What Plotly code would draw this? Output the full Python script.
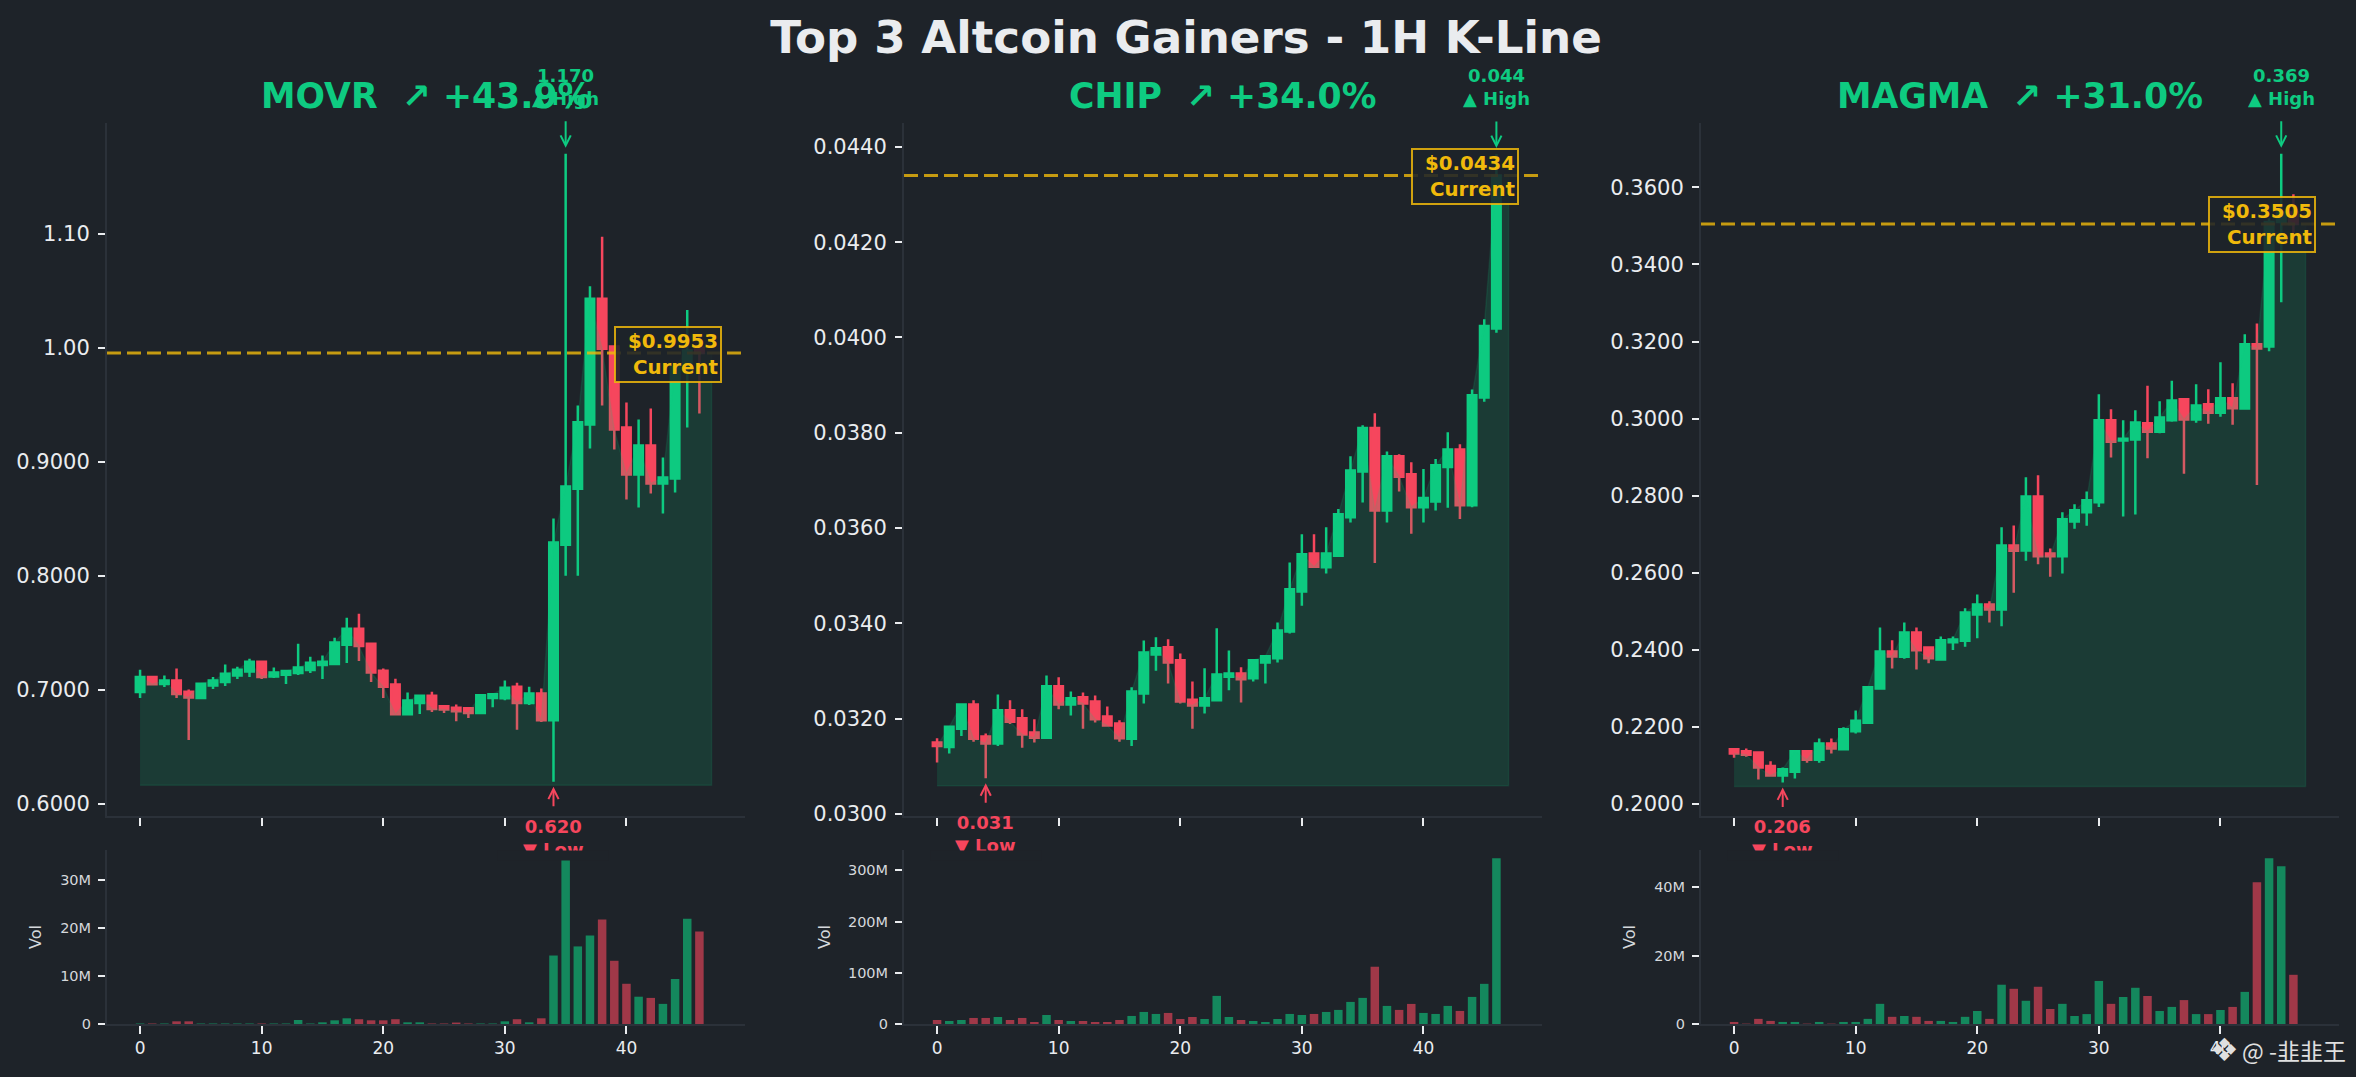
import plotly.graph_objects as go

W, H = 2356, 1077
BG = '#1e2329'
GREEN = '#0ecb81'
RED = '#f6465d'
GOLD = '#f0b90b'
SPINE = '#2b3139'
TEXT = '#eaecef'
FONT = 'DejaVu Sans'

names = ['MOVR', 'CHIP', 'MAGMA']
gains = ['+43.9%', '+34.0%', '+31.0%']

# MOVR
movr_open = [.6982,.7114,.7053,.7082,.6985,.693,.7038,.707,.7126,.7161,.7248,.7117,.7134,.7149,.7175,.7219,.7228,.7397,.7537,.7406,.7169,.7047,.6787,.6886,.695,.6857,.6845,.6839,.6799,.693,.6927,.7029,.6886,.6968,.6734,.8273,.8763,.9327,1.043,1.001,.93,.8889,.9143,.881,.8854,.983,1.0]
movr_high = [.7178,.7114,.7126,.7187,.7003,.7061,.7114,.7222,.7204,.7274,.7248,.7196,.7166,.7406,.7292,.7301,.7458,.7634,.7669,.7406,.7187,.7099,.6977,.695,.6985,.6869,.6872,.6845,.6959,.6968,.7082,.7064,.7029,.7012,.8503,1.170,.9493,1.054,1.0973,1.001,.9519,.937,.9467,.9038,.983,1.033,1.01]
movr_low = [.693,.7045,.7026,.693,.6562,.6921,.7009,.7035,.7096,.7114,.7096,.7105,.7053,.7131,.7149,.7096,.7219,.7237,.7254,.707,.693,.6781,.6781,.679,.6807,.6799,.6726,.6755,.6799,.6848,.691,.665,.6869,.672,.6195,.80,.80,.9116,.9493,.9108,.867,.86,.8722,.8547,.873,.93,.9423]
movr_close = [.7114,.705,.7082,.6965,.6933,.7055,.7082,.7143,.7178,.7248,.7114,.7152,.7166,.7196,.7239,.7248,.7415,.7537,.7385,.7152,.7029,.6787,.6907,.695,.6834,.6828,.6813,.6799,.6953,.6962,.702,.6886,.6968,.6734,.8293,.8784,.9347,1.043,.9992,.9283,.8889,.9143,.881,.8862,.983,.9975,.9953]
movr_vol = [.1,.1,.1,.56,.56,.1,.1,.1,.1,.1,.1,.1,.1,.84,.1,.35,.77,1.19,1.0,.77,.77,1.0,.35,.35,.1,.1,.3,.1,.1,.1,.56,1.0,.35,1.19,14.3,34.6,16.2,18.5,21.8,13.2,8.4,5.7,5.45,4.2,9.4,22.0,19.3]

# CHIP
chip_open = [.0315,.03141,.03179,.0323,.03163,.03148,.03218,.03201,.03171,.0316,.03268,.0323,.03245,.03236,.03205,.0319,.03158,.03253,.03335,.0335,.03323,.0324,.03228,.03239,.03288,.03295,.03285,.03318,.03327,.03383,.03467,.03547,.03518,.03542,.03623,.03719,.0381,.03637,.03751,.03713,.03644,.03656,.03728,.03765,.03648,.03874,.04019]
chip_high = [.03159,.03183,.03232,.03239,.03169,.03251,.03239,.0322,.03199,.03291,.03287,.03257,.03255,.03249,.03226,.03197,.03266,.03364,.03371,.03367,.03337,.03278,.03306,.0339,.03343,.03308,.03325,.03331,.03402,.03528,.03587,.03587,.03602,.0364,.03751,.03816,.03841,.03761,.03755,.03738,.03724,.03745,.03801,.03776,.03891,.04038,.04385]
chip_low = [.03108,.03127,.03164,.03152,.03075,.03143,.03189,.03139,.0315,.03158,.0322,.03207,.03179,.03192,.03186,.03152,.03143,.03232,.03301,.03274,.03232,.03179,.03211,.03238,.0326,.03234,.03278,.03274,.03318,.03379,.03437,.03518,.03505,.0354,.03612,.03654,.03527,.03612,.03677,.03588,.03612,.03637,.03643,.03619,.03644,.03865,.0401]
chip_close = [.03143,.03183,.0323,.03158,.03148,.03218,.03194,.03167,.0316,.03268,.0323,.03243,.03232,.03199,.03186,.03159,.03257,.03339,.03348,.03318,.03236,.03228,.03243,.03293,.03295,.03283,.03323,.03331,.03385,.03472,.03545,.03519,.03547,.03629,.03721,.0381,.03637,.03751,.03708,.03644,.03663,.03732,.03765,.03648,.03879,.04024,.0434]
chip_vol = [7.8,5.9,7.8,11.8,11.8,13.7,7.8,11.8,3.9,17.6,7.8,5.9,5.9,3.9,3.9,7.8,15.7,23.5,19.6,21.6,9.8,13.7,9.8,54.9,13.7,7.8,5.9,3.9,9.8,19.6,17.6,19.6,23.5,27.5,43.1,51.0,111.8,35.3,27.5,39.2,21.6,19.6,35.3,25.5,52.9,78.4,323.5]

# MAGMA
magma_open = [.2142,.2137,.2134,.2099,.2074,.2084,.2137,.2115,.2157,.2142,.2189,.2211,.23,.2396,.2382,.2445,.2406,.2375,.242,.2424,.2492,.2518,.2505,.2671,.2658,.2798,.265,.2643,.2733,.2757,.2783,.2996,.2943,.2946,.2988,.2966,.2996,.305,.2998,.3037,.3015,.3053,.3026,.3193,.3187,.351,.3535]
magma_high = [.2144,.2144,.2136,.2111,.2095,.2137,.2137,.217,.217,.2199,.2243,.2305,.2458,.2425,.2471,.2458,.2406,.2435,.2435,.2508,.2544,.2526,.2718,.2723,.2848,.2853,.2663,.2757,.2778,.2811,.3063,.3024,.2996,.3022,.3085,.3045,.3098,.3053,.3089,.3076,.3146,.3092,.3219,.3247,.352,.3687,.3582]
magma_low = [.212,.2123,.2064,.2073,.2056,.2066,.2107,.2107,.2131,.2142,.2183,.2209,.23,.2352,.2377,.2349,.2365,.2375,.24,.2408,.243,.2471,.2461,.2548,.2631,.2622,.259,.2598,.2714,.2722,.2771,.2899,.2746,.2751,.2897,.2962,.2992,.2857,.2989,.2987,.3005,.2984,.3024,.2828,.3175,.3302,.348]
magma_close = [.2131,.2128,.2095,.2074,.209,.2137,.2115,.2157,.2144,.2194,.2216,.2303,.2396,.2383,.2445,.2399,.2378,.2425,.2427,.2497,.2518,.2505,.2671,.2657,.2798,.2643,.2643,.2739,.2762,.2788,.2996,.294,.2948,.299,.2966,.3003,.3047,.2998,.3034,.3015,.3053,.3027,.3193,.3182,.351,.3535,.3505]
magma_vol = [.6,.1,1.5,.9,.6,.6,.1,.6,.1,.6,.6,1.5,5.9,2.1,2.35,2.1,.9,.9,.6,2.1,3.8,1.5,11.5,10.3,6.8,10.9,4.4,5.9,2.35,2.9,12.6,5.9,7.9,10.6,8.2,3.8,5.0,7.0,2.9,2.9,4.1,5.0,9.4,41.5,48.5,46.2,14.4]

opens = [movr_open, chip_open, magma_open]
highs = [movr_high, chip_high, magma_high]
lows = [movr_low, chip_low, magma_low]
closes = [movr_close, chip_close, magma_close]
vols = [movr_vol, chip_vol, magma_vol]

x_ticks = [0, 10, 20, 30, 40]
price_ticks = [
    [0.6, 0.7, 0.8, 0.9, 1.0, 1.1],
    [0.03, 0.032, 0.034, 0.036, 0.038, 0.04, 0.042, 0.044],
    [0.20, 0.22, 0.24, 0.26, 0.28, 0.30, 0.32, 0.34, 0.36],
]
price_labels = [
    ['0.6000', '0.7000', '0.8000', '0.9000', '1.00', '1.10'],
    ['0.0300', '0.0320', '0.0340', '0.0360', '0.0380', '0.0400', '0.0420', '0.0440'],
    ['0.2000', '0.2200', '0.2400', '0.2600', '0.2800', '0.3000', '0.3200', '0.3400', '0.3600'],
]
price_ranges = [[0.5895, 1.197], [0.02996, 0.0445], [0.1969, 0.3767]]
vol_ticks = [[0, 10, 20, 30], [0, 100, 200, 300], [0, 20, 40]]
vol_labels = [['0', '10M', '20M', '30M'], ['0', '100M', '200M', '300M'], ['0', '20M', '40M']]

# pixel positions of the panels
lefts = [107, 904, 1701]
panel_w = 638
main_top, main_bottom = 123, 816
vol_top, vol_bottom = 850, 1024
x_range = [-2.72, 49.75]

fig = go.Figure()
layout = {}


def ax_id(letter, n):
    return letter if n == 1 else f'{letter}{n}'


for p in range(3):
    n = len(closes[p])
    xs = list(range(n))
    xa_main, ya_main = ax_id('x', 2*p+1), ax_id('y', 2*p+1)
    xa_vol, ya_vol = ax_id('x', 2*p+2), ax_id('y', 2*p+2)
    dom = [lefts[p] / W, (lefts[p] + panel_w) / W]

    hi = max(highs[p])
    lo = min(lows[p])
    base = lo * 0.995
    last = closes[p][-1]

    # area under the close, runs one step past the last candle
    fig.add_trace(go.Scatter(
        x=xs + [n, n, 0], y=closes[p] + [last, base, base],
        mode='lines', fill='toself', fillcolor='rgba(14,203,129,0.15)',
        line=dict(color='rgba(14,203,129,0.12)', width=1.5),
        xaxis=xa_main, yaxis=ya_main, showlegend=False, hoverinfo='skip'))

    fig.add_trace(go.Candlestick(
        x=xs, open=opens[p], high=highs[p], low=lows[p], close=closes[p],
        increasing=dict(line=dict(color=GREEN, width=2.5), fillcolor=GREEN),
        decreasing=dict(line=dict(color=RED, width=2.5), fillcolor=RED),
        whiskerwidth=0, xaxis=xa_main, yaxis=ya_main, showlegend=False))

    colors = ['rgba(14,203,129,0.6)' if c >= o else 'rgba(246,70,93,0.6)'
              for o, c in zip(opens[p], closes[p])]
    fig.add_trace(go.Bar(x=xs, y=vols[p], width=0.7, marker=dict(color=colors, line_width=0),
                         xaxis=xa_vol, yaxis=ya_vol, showlegend=False))

    common_x = dict(domain=dom, range=x_range, tickvals=x_ticks, showgrid=False, zeroline=False,
                    showline=True, linecolor=SPINE, linewidth=2, ticks='outside', ticklen=8,
                    tickwidth=2, tickcolor=TEXT, automargin=False, rangeslider=dict(visible=False))
    common_y = dict(showgrid=False, zeroline=False, showline=True, linecolor=SPINE, linewidth=2,
                    ticks='outside', ticklen=7, tickwidth=2, tickcolor=TEXT, automargin=False,
                    ticklabelstandoff=4)

    layout[f'xaxis{2*p+1}'] = dict(common_x, anchor=ya_main, showticklabels=False)
    layout[f'yaxis{2*p+1}'] = dict(common_y, anchor=xa_main, range=price_ranges[p],
                                   domain=[1 - main_bottom / H, 1 - main_top / H],
                                   tickvals=price_ticks[p], ticktext=price_labels[p],
                                   tickfont=dict(size=21, color=TEXT, family=FONT))
    layout[f'xaxis{2*p+2}'] = dict(common_x, anchor=ya_vol,
                                   tickfont=dict(size=17, color=TEXT, family=FONT))
    layout[f'yaxis{2*p+2}'] = dict(common_y, anchor=xa_vol, range=[0, max(vols[p]) * 1.05],
                                   domain=[1 - vol_bottom / H, 1 - vol_top / H],
                                   tickvals=vol_ticks[p], ticktext=vol_labels[p],
                                   tickfont=dict(size=14.5, color='#d5d8dc', family=FONT))

    # panel title
    fig.add_annotation(xref='paper', yref='paper', x=(dom[0] + dom[1]) / 2, y=1 - 96 / H,
                       text=f'{names[p]}  ↗ {gains[p]}', showarrow=False,
                       xanchor='center', yanchor='middle',
                       font=dict(size=34.7, color=GREEN, family=FONT, weight='bold'))

    # volume axis label
    vol_x = [35, 824, 1629][p]
    fig.add_annotation(xref='paper', yref='paper', x=vol_x / W, y=1 - 937 / H, text='Vol',
                       textangle=-90, showarrow=False, xanchor='center', yanchor='middle',
                       font=dict(size=16, color='#d5d8dc', family=FONT))

    # current price line
    fig.add_shape(type='line', xref=f'{xa_main} domain', yref=ya_main, x0=0, x1=1, y0=last, y1=last,
                  layer='above', line=dict(color='rgba(240,185,11,0.8)', width=3, dash='14px,6px'))
    fig.add_annotation(xref=xa_main, yref=ya_main, x=47, y=last, xshift=10, yshift=-1,
                       xanchor='right', yanchor='middle', align='right', showarrow=False,
                       text=f'${last:.4f}<br>Current', width=100, bgcolor='rgba(30,35,41,0.88)',
                       bordercolor='rgba(240,185,11,0.85)', borderwidth=2, borderpad=2,
                       font=dict(size=19.8, color=GOLD, family=FONT, weight='bold'))

    # high marker
    i_hi = highs[p].index(hi)
    fig.add_annotation(xref=xa_main, yref=ya_main, x=i_hi, y=hi, text='', ax=0, ay=-34, standoff=6,
                       showarrow=True, arrowhead=5, arrowsize=1, arrowwidth=2, arrowcolor=GREEN)
    fig.add_annotation(xref=xa_main, yref=ya_main, x=i_hi, y=hi, yshift=43, yanchor='bottom',
                       xanchor='center', text=f'{hi:.3f}<br>▲ High', showarrow=False,
                       font=dict(size=18, color=GREEN, family=FONT, weight='bold'))

    # low marker
    i_lo = lows[p].index(lo)
    fig.add_annotation(xref=xa_main, yref=ya_main, x=i_lo, y=lo, text='', ax=0, ay=26, standoff=5,
                       showarrow=True, arrowhead=5, arrowsize=1, arrowwidth=2, arrowcolor=RED)
    fig.add_annotation(xref=xa_main, yref=ya_main, x=i_lo, y=lo, yshift=-32, yanchor='top',
                       xanchor='center', text=f'{lo:.3f}<br>▼ Low', showarrow=False,
                       font=dict(size=18, color=RED, family=FONT, weight='bold'))
    # the volume panel cuts the low label off
    fig.add_annotation(xref=xa_main, yref='paper', x=i_lo, y=1 - vol_top / H, yanchor='top',
                       xanchor='center', text=' ', showarrow=False, width=110, height=9,
                       bgcolor=BG, borderpad=0, font=dict(size=6))

# watermark
fig.add_annotation(xref='paper', yref='paper', x=2224 / W, y=1 - 1050 / H, text='❖', showarrow=False,
                   xanchor='center', yanchor='middle',
                   font=dict(size=32, color='#e0e0e0', family=FONT))
fig.add_annotation(xref='paper', yref='paper', x=2240 / W, y=1 - 1050 / H, xanchor='left',
                   yanchor='middle', text='@ -韭韭王', showarrow=False,
                   font=dict(size=23, color='#e0e0e0', family='Noto Sans CJK SC'))

fig.update_layout(
    template='none', width=W, height=H, margin=dict(l=0, r=0, t=0, b=0),
    paper_bgcolor=BG, plot_bgcolor=BG, boxgap=0.3, boxgroupgap=0, bargap=0.3, hovermode=False,
    title=dict(text='Top 3 Altcoin Gainers - 1H K-Line', x=1186 / W, y=1 - 37 / H,
               xanchor='center', yanchor='middle',
               font=dict(size=45.2, color=TEXT, family=FONT, weight='bold')),
    **layout)

fig.write_html('out.html', config=dict(displayModeBar=False),
               post_script="document.body.style.margin='0';")
